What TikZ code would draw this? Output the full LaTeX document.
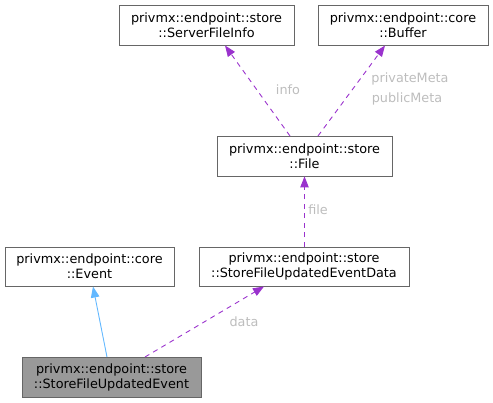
\documentclass[tikz,border=0pt]{standalone}
\usepackage{fontspec}
\setmainfont{DejaVu Sans}
\usetikzlibrary{arrows.meta}
\definecolor{edgepurple}{HTML}{9A32CD}
\definecolor{edgeblue}{HTML}{63B8FF}
\definecolor{boxgray}{HTML}{666666}
\definecolor{labelgray}{HTML}{BDBDBD}
\definecolor{fillgray}{HTML}{999999}
\begin{document}
\begin{tikzpicture}[x=1pt,y=-1pt,
  cls/.style={draw=boxgray, line width=0.9pt, fill=white, align=center, inner sep=0pt, font=\fontsize{12.8}{15}\selectfont, text=black},
  usage/.style={draw=edgepurple, line width=0.9pt, dash pattern=on 5pt off 4.5pt, -{Triangle[length=11pt,width=8.5pt]}},
  inherit/.style={draw=edgeblue, line width=0.9pt, -{Triangle[length=11pt,width=8.5pt]}},
  lbl/.style={text=labelgray, font=\fontsize{12.8}{15}\selectfont, inner sep=0pt}]
\useasboundingbox (0,0) rectangle (493,403);
\node[cls, minimum width=175pt, minimum height=40pt] (sfi) at (206.5,25) {privmx::endpoint::store\\::ServerFileInfo};
\node[cls, minimum width=170pt, minimum height=40pt] (buf) at (403,25) {privmx::endpoint::core\\::Buffer};
\node[cls, minimum width=175pt, minimum height=40pt] (file) at (304.5,156) {privmx::endpoint::store\\::File};
\node[cls, minimum width=169pt, minimum height=39pt] (ev) at (89.5,266.5) {privmx::endpoint::core\\::Event};
\node[cls, minimum width=210pt, minimum height=39pt] (sfued) at (304,266.5) {privmx::endpoint::store\\::StoreFileUpdatedEventData};
\node[cls, fill=fillgray, minimum width=179pt, minimum height=40pt] (sfue) at (111.5,377) {privmx::endpoint::store\\::StoreFileUpdatedEvent};
\coordinate (a1) at (290,136);
\coordinate (a2) at (318,136);
\draw[usage] (a1) -- (225,45.5) coordinate (t1);
\draw[usage] (a2) -- (385,45.5) coordinate (t2);
\draw[usage] (file.south |- sfued.north) -- (file.south);
\coordinate (e1) at (107,357);
\coordinate (e2) at (145,357);
\draw[inherit] (e1) -- (93,286.5);
\draw[usage] (e2) -- (264,286.5);
\node[lbl] (linfo) at (288,90) {info};
\node[lbl] (lpm) at (410,79) {privateMeta};
\node[lbl] (lpub) at (407,99) {publicMeta};
\node[lbl] (lfile) at (318,210) {file};
\node[lbl] (ldata) at (244,322) {data};
\end{tikzpicture}
\end{document}
